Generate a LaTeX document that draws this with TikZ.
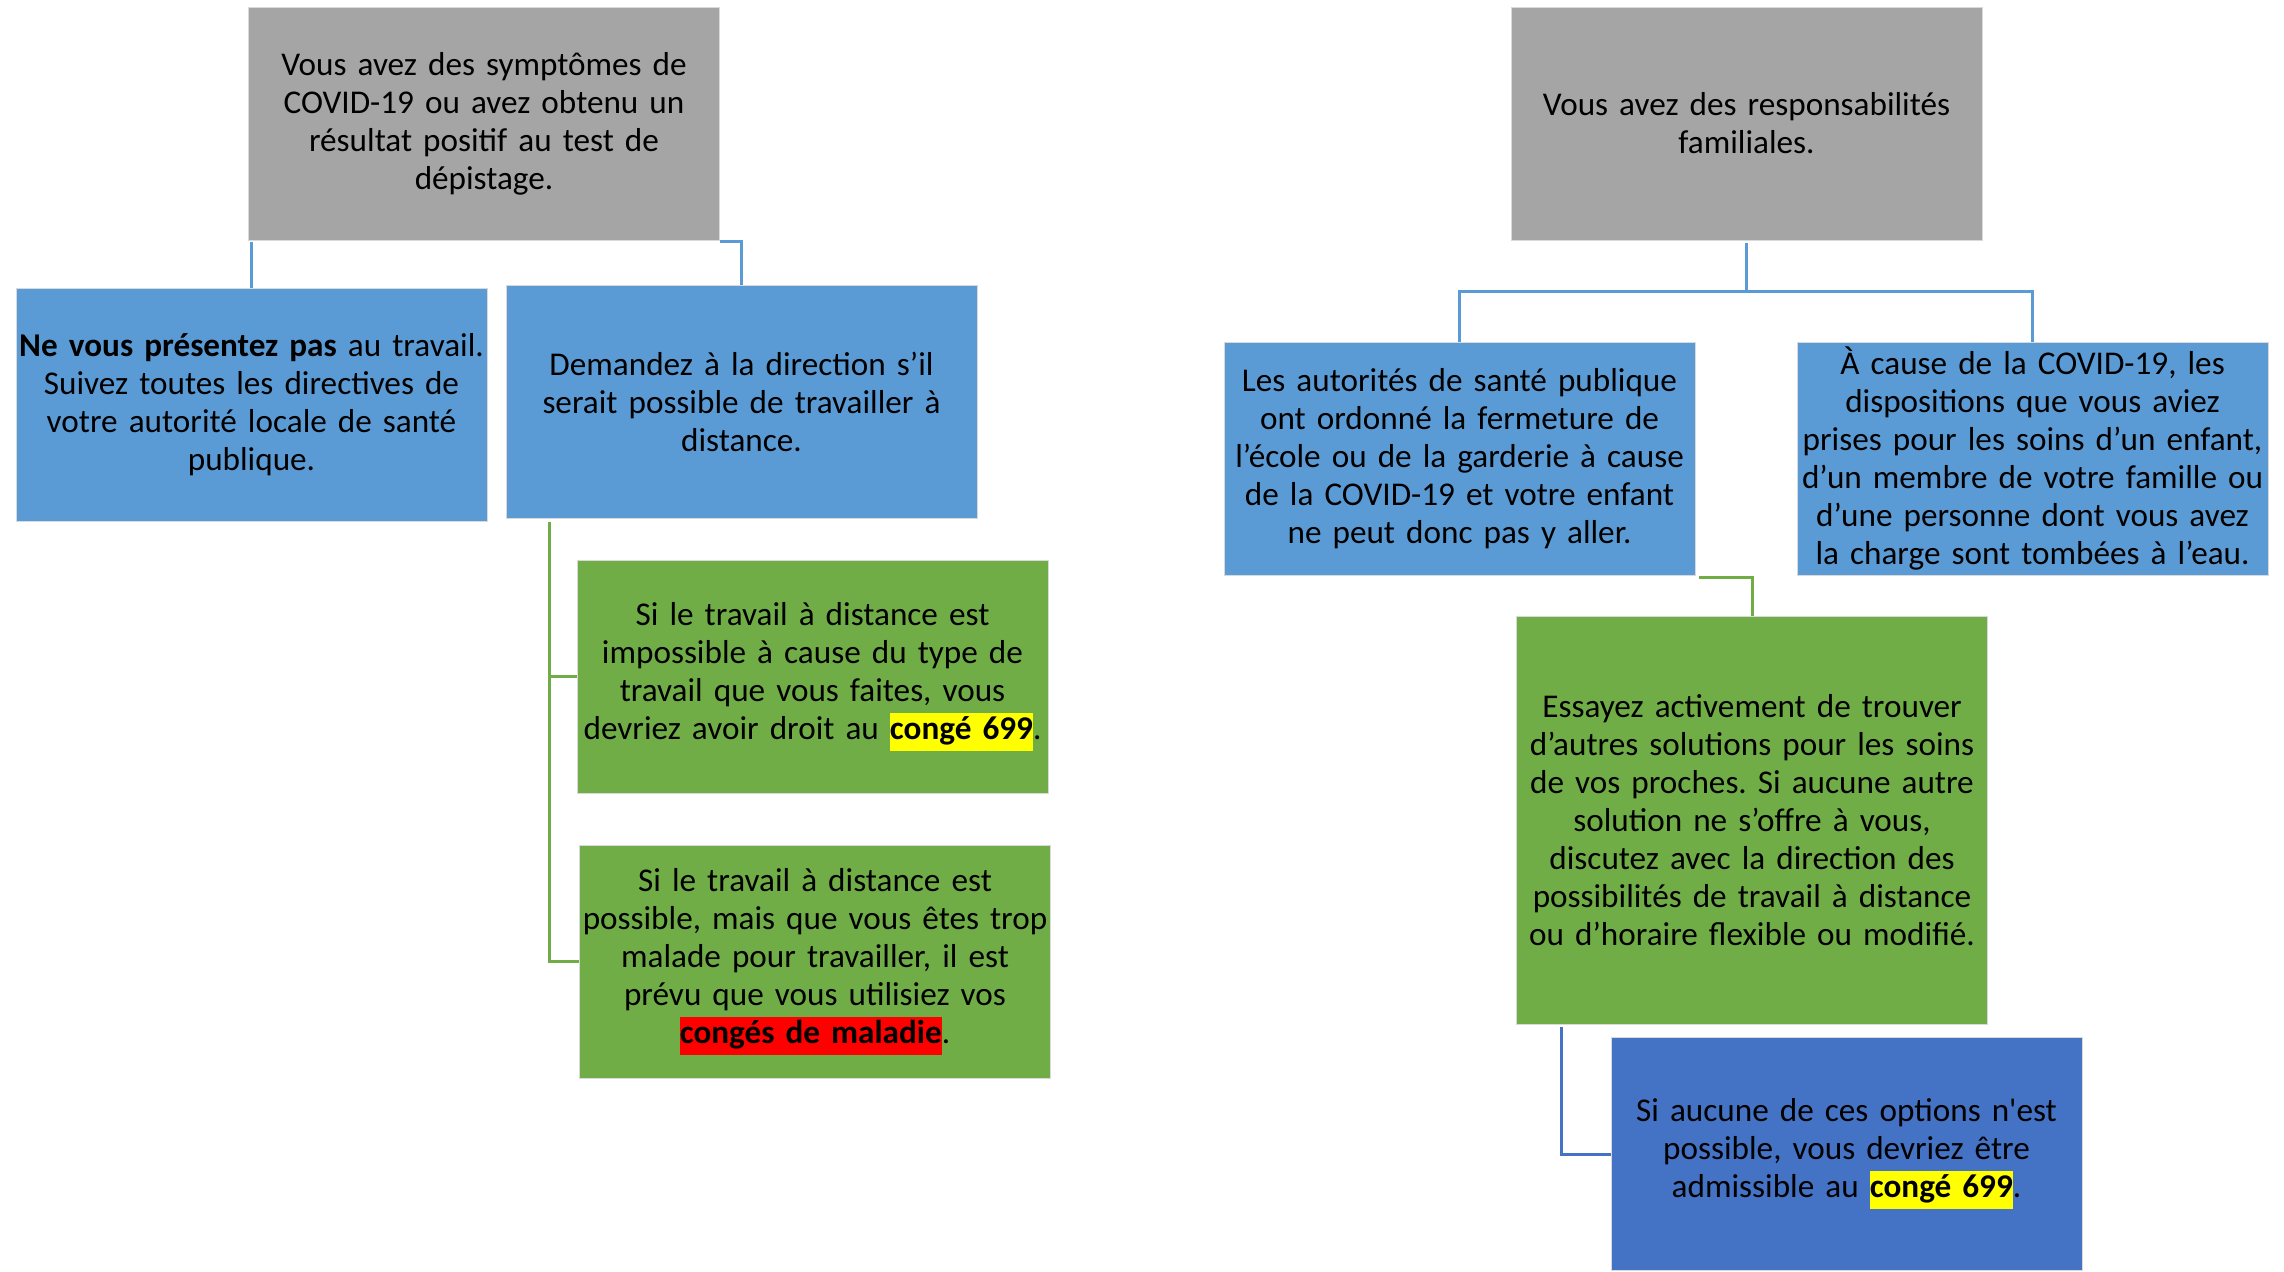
\documentclass[tikz,border=0pt]{standalone}
\usepackage{fontspec}
\setmainfont{Carlito}[Ligatures=TeXOff]
\usetikzlibrary{calc}
\definecolor{cgray}{HTML}{A5A5A5}
\definecolor{cblue}{HTML}{5B9BD5}
\definecolor{cgreen}{HTML}{70AD47}
\definecolor{cdblue}{HTML}{4472C4}
\definecolor{hyellow}{HTML}{FFFF00}
\definecolor{hred}{HTML}{FF0000}
\newcommand{\hlbox}[2]{{\setlength{\fboxsep}{0pt}\colorbox{#1}{\strut#2}}}
\tikzset{
  box/.style={rectangle, draw=white!85!black, line width=0.4pt, inner sep=0pt,
    minimum width=235.5pt, minimum height=116.5pt, text width=235pt, align=center,
    font=\fontsize{16.6}{19}\selectfont\frenchspacing, text=black},
  conn/.style={line width=1.5pt},
}
\begin{document}
\begin{tikzpicture}[x=0.5pt,y=-0.5pt]
\useasboundingbox (0,0) rectangle (2284,1272);
% boxes
\node[box, fill=cgray] (g1) at (484,123.5) {Vous avez des symptômes de\\COVID-19 ou avez obtenu un\\résultat positif au test de\\dépistage.};
\node[box, fill=cblue] (b1) at (251.5,404.5) {\textbf{Ne vous présentez pas} au travail.\\Suivez toutes les directives de\\votre autorité locale de santé\\publique.};
\node[box, fill=cblue] (b2) at (741.5,401.5) {Demandez à la direction s’il\\serait possible de travailler à\\distance.};
\node[box, fill=cgreen] (gr1) at (812.5,676.5) {Si le travail à distance est\\impossible à cause du type de\\travail que vous faites, vous\\devriez avoir droit au \hlbox{hyellow}{\textbf{congé 699}}.};
\node[box, fill=cgreen] (gr2) at (815,961.5) {Si le travail à distance est\\possible, mais que vous êtes trop\\malade pour travailler, il est\\prévu que vous utilisiez vos\\\hlbox{hred}{\textbf{congés de maladie}}.};
\node[box, fill=cgray] (g2) at (1746.5,123.5) {Vous avez des responsabilités\\familiales.};
\node[box, fill=cblue] (b3) at (1459.5,458.5) {Les autorités de santé publique\\ont ordonné la fermeture de\\l’école ou de la garderie à cause\\de la COVID-19 et votre enfant\\ne peut donc pas y aller.};
\node[box, fill=cblue] (b4) at (2032.5,458.5) {À cause de la COVID-19, les\\dispositions que vous aviez\\prises pour les soins d’un enfant,\\d’un membre de votre famille ou\\d’une personne dont vous avez\\la charge sont tombées à l’eau.};
\node[box, fill=cgreen, minimum height=204pt] (gr3) at (1752,820) {Essayez activement de trouver\\d’autres solutions pour les soins\\de vos proches. Si aucune autre\\solution ne s’offre à vous,\\discutez avec la direction des\\possibilités de travail à distance\\ou d’horaire flexible ou modifié.};
\node[box, fill=cdblue] (b5) at (1846.5,1154) {Si aucune de ces options n'est\\possible, vous devriez être\\admissible au \hlbox{hyellow}{\textbf{congé 699}}.};
% connectors
\coordinate (bus1) at (484,242);
\draw[conn, draw=cblue] (b1.north) -- (b1.north |- bus1);
\draw[conn, draw=cblue] (g1.south east |- bus1) -- (b2.north |- bus1) -- (b2.north);
\coordinate (v1) at ($(b2.south west)+(44,4)$);
\draw[conn, draw=cgreen] (v1) |- (gr1.west);
\draw[conn, draw=cgreen] (v1) |- (gr2.west);
\draw[conn, draw=cblue] (g2.south) ++(0,3) -- ++(0,48) coordinate (bus2);
\draw[conn, draw=cblue] (b3.north) -- (b3.north |- bus2) -- (b4.north |- bus2) -- (b4.north);
\coordinate (bus3) at ($(b3.south east)+(4,2)$);
\draw[conn, draw=cgreen] (bus3) -| (gr3.north);
\coordinate (v3) at ($(gr3.south west)+(45,3)$);
\draw[conn, draw=cdblue] (v3) |- (b5.west);
\end{tikzpicture}
\end{document}
